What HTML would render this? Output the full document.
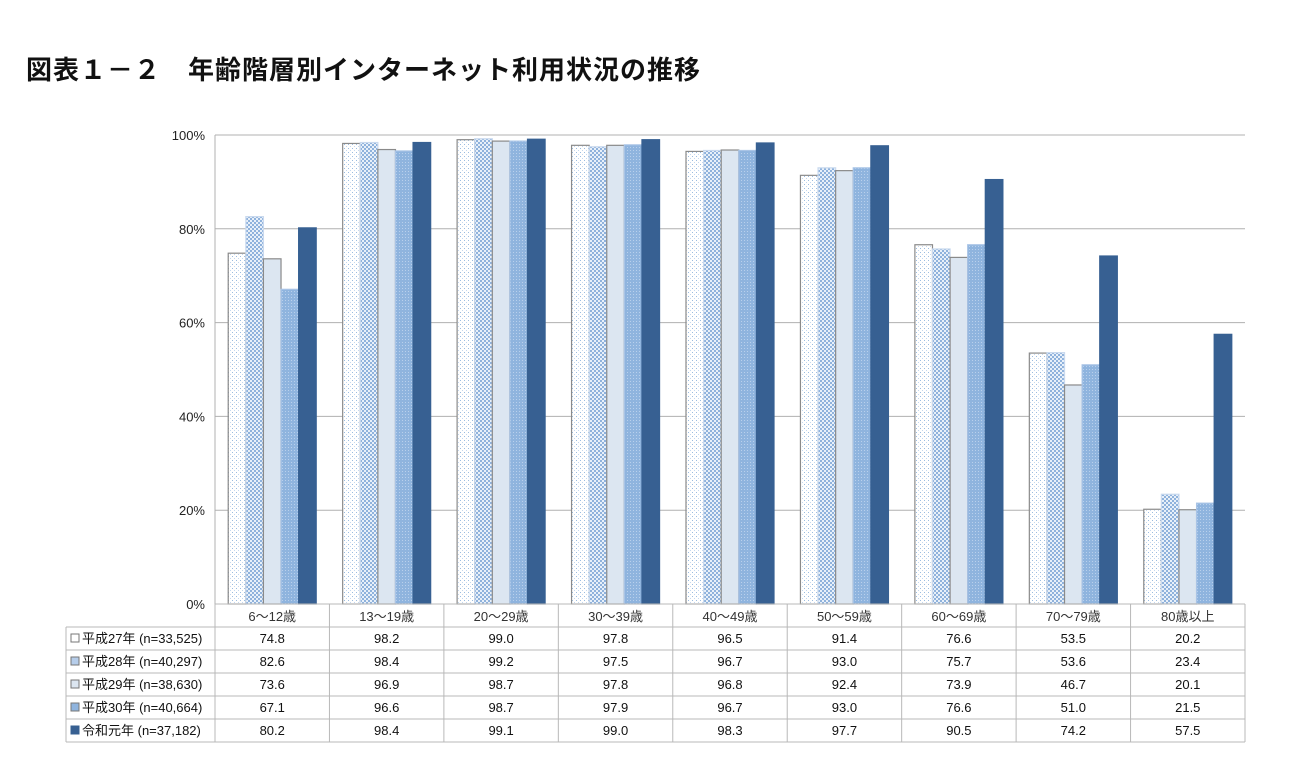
<!DOCTYPE html>
<html><head><meta charset="utf-8"><style>
body{margin:0;background:#fff;font-family:"Liberation Sans","Noto Sans CJK JP",sans-serif;}
#wrap{position:relative;width:1310px;height:780px;overflow:hidden}
h1{position:absolute;left:26px;top:50px;margin:0;font-size:26px;font-weight:bold;color:#111;letter-spacing:1px;font-family:"Liberation Sans","Noto Sans CJK JP",sans-serif}
</style></head><body><div id="wrap">
<h1>図表１－２　年齢階層別インターネット利用状況の推移</h1>
<svg id="chart" width="1310" height="780" style="position:absolute;left:0;top:0">
<defs>
<pattern id="p0" width="4" height="4" patternUnits="userSpaceOnUse"><rect width="4" height="4" fill="#fff"/><rect x="0" y="0" width="1" height="1" fill="#9bbce0"/><rect x="2" y="2" width="1" height="1" fill="#c5d8ee"/></pattern>
<pattern id="p1" width="4" height="4" patternUnits="userSpaceOnUse"><rect width="4" height="4" fill="#e8f0f9"/><rect x="0" y="0" width="2" height="2" fill="#8fb2dc"/><rect x="2" y="2" width="2" height="2" fill="#8fb2dc"/></pattern>
<pattern id="p3" width="3" height="3" patternUnits="userSpaceOnUse"><rect width="3" height="3" fill="#8fb4de"/><rect x="0" y="0" width="1" height="1" fill="#b9d0ec"/></pattern>
</defs>
<g id="g"></g>
</svg>
<script>
const categories=["6～12歳","13～19歳","20～29歳","30～39歳","40～49歳","50～59歳","60～69歳","70～79歳","80歳以上"];
const seriesNames=["平成27年 (n=33,525)","平成28年 (n=40,297)","平成29年 (n=38,630)","平成30年 (n=40,664)","令和元年 (n=37,182)"];
const s0=[74.8,98.2,99.0,97.8,96.5,91.4,76.6,53.5,20.2];
const s1=[82.6,98.4,99.2,97.5,96.7,93.0,75.7,53.6,23.4];
const s2=[73.6,96.9,98.7,97.8,96.8,92.4,73.9,46.7,20.1];
const s3=[67.1,96.6,98.7,97.9,96.7,93.0,76.6,51.0,21.5];
const s4=[80.2,98.4,99.1,99.0,98.3,97.7,90.5,74.2,57.5];
const yTicks=[0,20,40,60,80,100];
const series=[s0,s1,s2,s3,s4];
const fills=["url(#p0)","url(#p1)","#dce6f1","url(#p3)","#376092"];
const strokes=["#8a8a8a","#c9d9ee","#8a8a8a","#a9c4e6","#376092"];
const legendFills=["#fff","#b6cdea","#dce6f1","#8fb4de","#376092"];
const NS="http://www.w3.org/2000/svg";
const g=document.getElementById('g');
const X0=215,X1=1245,Y0=604,Y1=135;
const cw=(X1-X0)/categories.length;
const y=v=>Y0-(v/100)*(Y0-Y1);
const x=i=>X0+i*cw;
function mk(t,a){const e=document.createElementNS(NS,t);for(const k in a)e.setAttribute(k,a[k]);g.appendChild(e);return e;}
yTicks.forEach(t=>{
 const l=mk('line',{x1:X0,x2:X1,y1:y(t),y2:y(t),stroke:'#b0b0b0','stroke-width':1});
 
 
 const tx=mk('text',{x:X0-10,y:y(t)+5,'text-anchor':'end','font-size':13,fill:'#222'});
 tx.textContent=t+'%';
 
 
});
mk('line',{x1:X0,x2:X0,y1:Y1,y2:Y0,stroke:'#b0b0b0'});
const bw=17.6,pad=(cw-5*bw)/2;
series.forEach((s,si)=>{s.forEach((v,ci)=>{
 const r=mk('rect',{x:x(ci)+pad+si*bw,y:y(v),width:bw,height:Y0-y(v),fill:fills[si],stroke:strokes[si],'stroke-width':1.2});
 
 
});});
// table
const TL=66,rows=[627,650,673,696,719,742];
const tc='#b8b8b8';
mk('line',{x1:X0,x2:X1,y1:Y0,y2:Y0,stroke:tc});
for(let i=0;i<=categories.length;i++){mk('line',{x1:x(i),x2:x(i),y1:Y0,y2:rows[5],stroke:tc});}
mk('line',{x1:TL,x2:TL,y1:rows[0],y2:rows[5],stroke:tc});
rows.forEach((ry,i)=>{mk('line',{x1:i==0?TL:TL,x2:X1,y1:ry,y2:ry,stroke:tc});});
categories.forEach((c,ci)=>{
 const t=mk('text',{x:x(ci)+cw/2,y:Y0+17,'text-anchor':'middle','font-size':13,fill:'#333'});
 t.textContent=c;
 
 
});
series.forEach((s,si)=>{
 const ry=rows[si];
 const lr=mk('rect',{x:TL+5,y:ry+7,width:8,height:8,fill:legendFills[si],stroke:si==4?'#376092':'#777'});
 
 
 const lt=mk('text',{x:TL+16,y:ry+16,'font-size':13,fill:'#111'});
 lt.textContent=seriesNames[si];
 
 
 s.forEach((v,ci)=>{
  const t=mk('text',{x:x(ci)+cw/2,y:ry+16,'text-anchor':'middle','font-size':13,fill:'#111'});
  t.textContent=v.toFixed(1);
  
  
 });
});
</script>
</div></body></html>
